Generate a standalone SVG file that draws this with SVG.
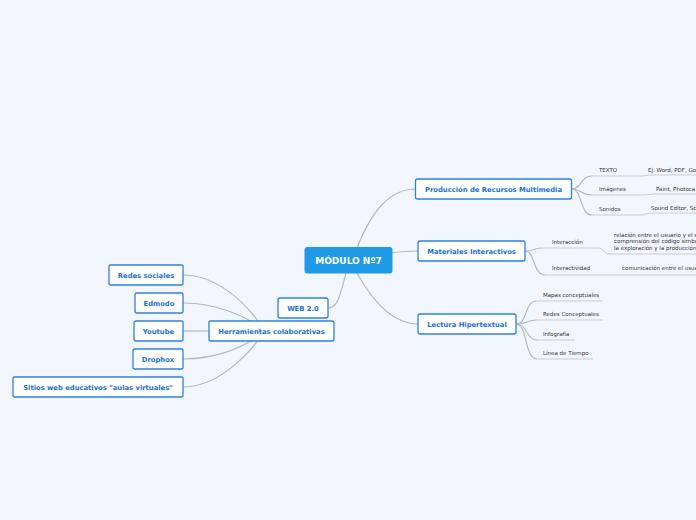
<svg xmlns="http://www.w3.org/2000/svg" width="696" height="520" viewBox="0 0 696 520">
<style>
.bg{fill:#f2f6fe}
.node rect{fill:#ffffff;stroke:#2f80e0;stroke-width:1.3}
.node text{font-family:"DejaVu Sans",Verdana,sans-serif;font-weight:bold;font-size:6.8px;fill:#1b72d8;text-anchor:middle}
.root rect{fill:#1e9ae6;stroke:#1e9ae6}
.root text{font-family:"DejaVu Sans",Verdana,sans-serif;font-weight:bold;font-size:9px;fill:#ffffff;text-anchor:middle}
.conn path{fill:none;stroke:#b7b9c1;stroke-width:1.2}
.leaf text{font-family:"DejaVu Sans",Verdana,sans-serif;font-size:5.5px;fill:#333333}
.leaf path{fill:none;stroke:#c9ccd4;stroke-width:1}
</style>
<rect class="bg" x="0" y="0" width="696" height="520"/>
<g id="connectors" class="conn">
<path d="M357 248 C372 210 390 189 416 189"/>
<path d="M392 253 C402 251 408 251 418 251"/>
<path d="M357 273 C372 300 392 324 418 324"/>
<path d="M346 273 C340 295 338 308 328 308"/>
<path d="M265 331 C245 300 215 275 183 275"/>
<path d="M265 331 C245 315 215 303 183 303"/>
<path d="M209 331 L183 331"/>
<path d="M265 331 C245 348 215 359 183 359"/>
<path d="M265 331 C245 360 215 387 183 387"/>
<path d="M572 189 C582 189 580 176 592 176"/>
<path d="M572 189 C582 189 580 195 592 195"/>
<path d="M572 189 C582 189 580 215 592 215"/>
<path d="M525 251 C535 251 533 248 542 248"/>
<path d="M525 251 C535 251 533 275 545 275"/>
<path d="M516 324 C528 324 524 301 537 301"/>
<path d="M516 324 C528 324 526 320 537 320"/>
<path d="M516 324 C528 324 526 340 537 340"/>
<path d="M516 324 C528 324 524 359 537 359"/>
</g>
<g id="n-texto" class="leaf"><text x="599" y="172">TEXTO</text><path d="M592 176 L640 176 C646 176 646 175 652 175 L696 175"/></g>
<g id="n-texto-ej" class="leaf"><text x="648" y="171.5">Ej: Word, PDF, Go</text></g>
<g id="n-imagenes" class="leaf"><text x="599" y="191">Imágenes</text><path d="M592 195 L643 195 C649 195 649 194 655 194 L696 194"/></g>
<g id="n-imagenes-ej" class="leaf"><text x="656" y="190.5">Paint, Photoca</text></g>
<g id="n-sonidos" class="leaf"><text x="599" y="211">Sonidos</text><path d="M592 215 L640 215 C646 215 646 213 652 213 L696 213"/></g>
<g id="n-sonidos-ej" class="leaf"><text x="651" y="210">Sound Editor, Sc</text></g>
<g id="n-interaccion" class="leaf"><text x="552" y="243.5">Interacción</text><path d="M542 248 L598 248 C604 248 604 254 610 254 L696 254"/></g>
<g id="n-interaccion-def" class="leaf"><text x="614" y="236.5">relación entre el usuario y el s</text><text x="614" y="243">comprensión del código simbó</text><text x="614" y="249.5">la exploración y la producción</text></g>
<g id="n-interactividad" class="leaf"><text x="552" y="270">Interactividad</text><path d="M545 275 L696 275"/></g>
<g id="n-interactividad-def" class="leaf"><text x="622" y="270">comunicación entre el usua</text></g>
<g id="n-mapas" class="leaf"><text x="543" y="297">Mapas conceptuales</text><path d="M537 301 L603 301"/></g>
<g id="n-redesc" class="leaf"><text x="543" y="316">Redes Conceptuales</text><path d="M537 320 L603 320"/></g>
<g id="n-infografia" class="leaf"><text x="543" y="336">Infografía</text><path d="M537 340 L575 340"/></g>
<g id="n-linea" class="leaf"><text x="543" y="355">Línea de Tiempo</text><path d="M537 359 L593 359"/></g>
<g id="n-root" class="root"><rect x="305" y="247.5" width="87" height="25.5" rx="2"/><text x="348.5" y="263.7">MÓDULO Nº7</text></g>
<g id="n-produccion" class="node"><rect x="415.5" y="179" width="156" height="20" rx="2"/><text x="493.5" y="191.5">Producción de Recursos Multimedia</text></g>
<g id="n-materiales" class="node"><rect x="418" y="241" width="107" height="20" rx="2"/><text x="471.5" y="253.5">Materiales Interactivos</text></g>
<g id="n-lectura" class="node"><rect x="418" y="314" width="98" height="20" rx="2"/><text x="467" y="326.5">Lectura Hipertextual</text></g>
<g id="n-web" class="node"><rect x="278" y="298" width="50" height="20" rx="2"/><text x="303" y="310.5">WEB 2.0</text></g>
<g id="n-herramientas" class="node"><rect x="209" y="321" width="125" height="20" rx="2"/><text x="271.5" y="333.5">Herramientas colaborativas</text></g>
<g id="n-redes" class="node"><rect x="109" y="265" width="74" height="20" rx="2"/><text x="146" y="277.5">Redes sociales</text></g>
<g id="n-edmodo" class="node"><rect x="135" y="293" width="48" height="20" rx="2"/><text x="159" y="305.5">Edmodo</text></g>
<g id="n-youtube" class="node"><rect x="134" y="321" width="49" height="20" rx="2"/><text x="158.5" y="333.5">Youtube</text></g>
<g id="n-dropbox" class="node"><rect x="133" y="349" width="50" height="20" rx="2"/><text x="158" y="361.5">Drophox</text></g>
<g id="n-sitios" class="node"><rect x="13" y="377" width="170" height="20" rx="2"/><text x="98" y="389.5">Sitios web educativos "aulas virtuales"</text></g>
</svg>
